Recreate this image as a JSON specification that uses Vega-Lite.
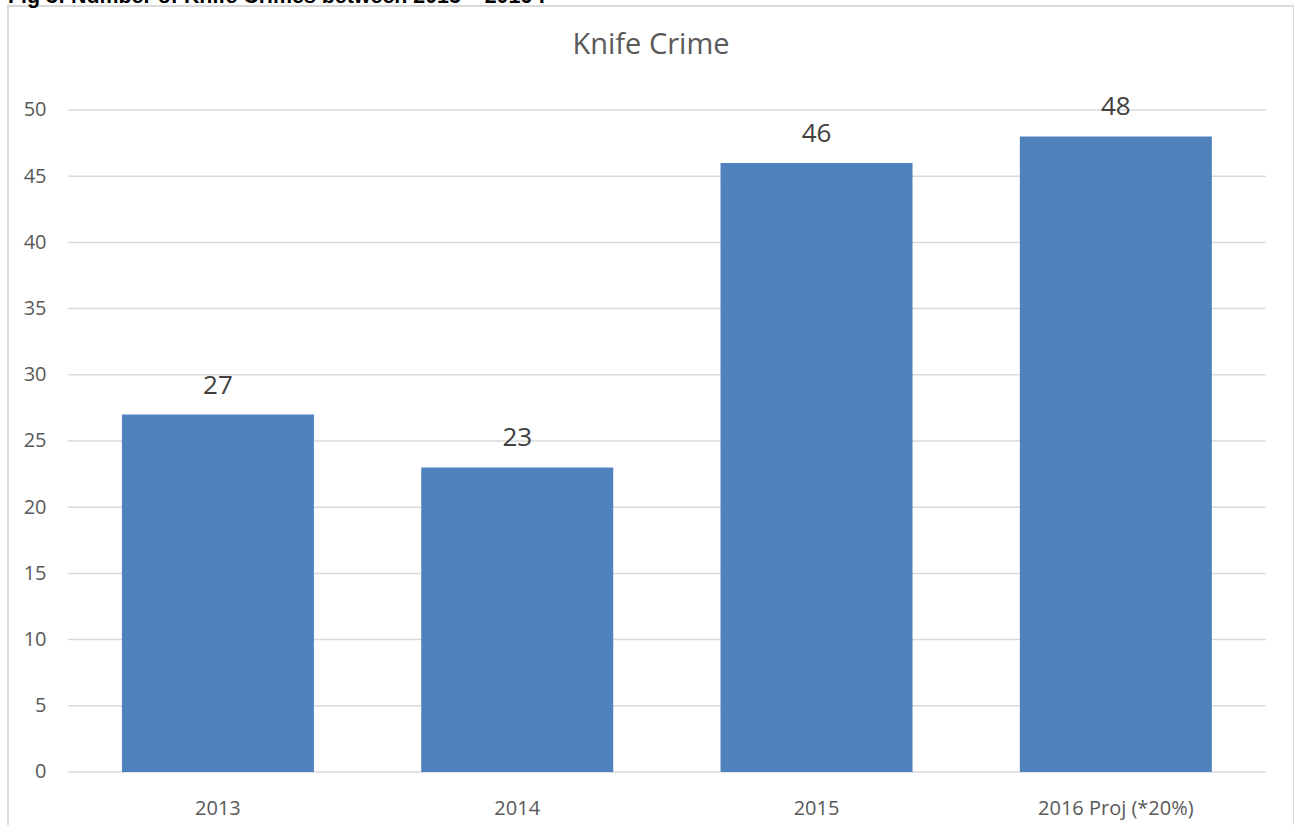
{
  "$schema": "https://vega.github.io/schema/vega-lite/v6.json",
  "autosize": {"type": "none"},
  "padding": {"left": 8, "top": 6, "right": 0, "bottom": 0},
  "width": 1286,
  "height": 830,
  "background": "white",
  "config": {
    "view": {"stroke": "#d9d9d9", "strokeWidth": 2},
    "font": "Open Sans"
  },
  "title": {
    "text": "Fig 3: Number of Knife Crimes between 2013 – 2016 :",
    "anchor": "start",
    "frame": "group",
    "font": "Liberation Sans",
    "fontWeight": "bold",
    "fontSize": 21.4,
    "color": "#000000",
    "baseline": "alphabetic",
    "offset": -18
  },
  "datasets": {
    "bars": [
      {"year": "2013", "count": 27},
      {"year": "2014", "count": 23},
      {"year": "2015", "count": 46},
      {"year": "2016 Proj (*20%)", "count": 48}
    ],
    "grid": [
      {"v": 0}, {"v": 5}, {"v": 10}, {"v": 15}, {"v": 20}, {"v": 25},
      {"v": 30}, {"v": 35}, {"v": 40}, {"v": 45}, {"v": 50}
    ],
    "heading": [{"label": "Knife Crime", "pos": 54.9}]
  },
  "layer": [
    {
      "data": {"name": "grid"},
      "mark": {"type": "rule", "color": "#d9d9d9", "strokeWidth": 1.5},
      "encoding": {
        "y": {"field": "v", "type": "quantitative"},
        "x": {"datum": "2013", "bandPosition": -0.28},
        "x2": {"datum": "2016 Proj (*20%)", "bandPosition": 1.28}
      }
    },
    {
      "data": {"name": "bars"},
      "mark": {"type": "bar", "color": "#4f81bd"},
      "encoding": {
        "x": {
          "field": "year", "type": "nominal", "sort": null,
          "scale": {"paddingInner": 0.3585, "paddingOuter": 0.3276, "align": 0.581},
          "axis": {
            "title": null, "domain": false, "ticks": false, "tickSize": 0,
            "bandPosition": 0.5,
            "labelAngle": 0, "labelAlign": "center", "labelFontSize": 20, "labelColor": "#595959",
            "labelFont": "Open Sans", "labelBaseline": "middle",
            "labelPadding": 0, "offset": -28
          }
        },
        "y": {
          "field": "count", "type": "quantitative",
          "scale": {"domain": [-4.834, 57.855], "nice": false, "zero": false},
          "axis": {
            "title": null, "domain": false, "ticks": false, "tickSize": 0,
            "grid": false, "values": [0, 5, 10, 15, 20, 25, 30, 35, 40, 45, 50],
            "labelFontSize": 20, "labelColor": "#595959", "labelFont": "Open Sans",
            "labelPadding": 0, "offset": -38
          }
        },
        "y2": {"datum": 0}
      }
    },
    {
      "data": {"name": "bars"},
      "mark": {"type": "text", "fontSize": 26, "color": "#404040", "baseline": "middle", "dy": -29},
      "encoding": {
        "x": {"field": "year", "type": "nominal"},
        "y": {"field": "count", "type": "quantitative"},
        "text": {"field": "count", "type": "quantitative"}
      }
    },
    {
      "data": {"name": "heading"},
      "mark": {"type": "text", "fontSize": 29, "color": "#595959", "baseline": "middle"},
      "encoding": {
        "y": {"field": "pos", "type": "quantitative"},
        "text": {"field": "label", "type": "nominal"}
      }
    }
  ]
}
